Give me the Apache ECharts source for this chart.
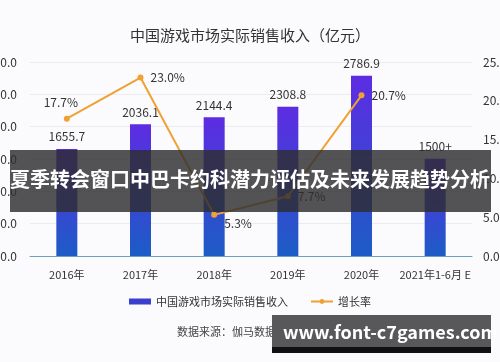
<!DOCTYPE html>
<html>
<head>
<meta charset="utf-8">
<script src="https://cdn.jsdelivr.net/npm/echarts@6/dist/echarts.min.js"></script>
<style>
html,body{margin:0;padding:0;background:#fbfafd;}
#c{width:500px;height:362px;}
</style>
</head>
<body>
<div id="c"></div>
<script>
const categories = ['2016年','2017年','2018年','2019年','2020年','2021年1-6月 E'];
const revenue = [1655.7, 2036.1, 2144.4, 2308.8, 2786.9, 1504.9];
const revenueLabels = ['1655.7','2036.1','2144.4','2308.8','2786.9','1500+'];
const growth = [17.7, 23.0, 5.3, 7.7, 20.7, null];
const growthLabelPos = ['top','right','right','right','right','right'];
const growthLabelShift = [[-6,0],[0,0],[0,9],[0,0],[0,0],[0,0]];
const leftTicks = {min:0, max:3000, interval:500};
const rightTicks = {min:0, max:25, interval:5};

const FONT = '"Noto Sans CJK SC", "Noto Sans", sans-serif';
const chart = echarts.init(document.getElementById('c'), null, {renderer:'canvas'});
chart.setOption({
  backgroundColor:'#fbfafd',
  animation:false,
  textStyle:{fontFamily:FONT},
  title:{
    text:'中国游戏市场实际销售收入（亿元）',
    left:'center', top:23,
    textStyle:{fontSize:15, fontWeight:'normal', color:'#333', fontFamily:FONT}
  },
  legend:{
    top:291, left:'center', itemGap:22,
    textStyle:{fontSize:11, color:'#333', fontFamily:FONT},
    data:[
      {name:'中国游戏市场实际销售收入', icon:'rect', itemStyle:{color:'#3b3fcf'}},
      {name:'增长率'}
    ],
    itemWidth:22, itemHeight:6
  },
  grid:{left:30, right:28, top:62, bottom:106, containLabel:false, outerBoundsMode:'none'},
  xAxis:{
    type:'category', data:categories,
    axisLine:{lineStyle:{color:'#6a9fc0', width:1}},
    axisTick:{show:false},
    axisLabel:{color:'#333', fontSize:11, margin:13, fontFamily:FONT, interval:0}
  },
  yAxis:[
    {type:'value', min:leftTicks.min, max:leftTicks.max, interval:leftTicks.interval,
     axisLine:{show:false}, axisTick:{show:false},
     splitLine:{lineStyle:{color:'#ececf0'}},
     axisLabel:{color:'#333', fontSize:12, margin:13, formatter:v=>v.toFixed(1)}},
    {type:'value', min:rightTicks.min, max:rightTicks.max, interval:rightTicks.interval,
     axisLine:{show:false}, axisTick:{show:false}, splitLine:{show:false},
     axisLabel:{color:'#333', fontSize:12, margin:11, formatter:v=>v.toFixed(1)+'%'}}
  ],
  series:[
    {name:'中国游戏市场实际销售收入', type:'bar', yAxisIndex:0, barWidth:21,
     data:revenue,
     itemStyle:{color:new echarts.graphic.LinearGradient(0,0,0,1,[
       {offset:0,color:'#5d2ce2'},{offset:1,color:'#1c5cc6'}])},
     label:{show:true, position:'top', distance:6, color:'#333', fontSize:12,
       formatter:p=>revenueLabels[p.dataIndex]}
    },
    {name:'增长率', type:'line', yAxisIndex:1,
     data:growth.map((v,i)=>({value:v, label:{position:growthLabelPos[i], offset:growthLabelShift[i]}})),
     lineStyle:{color:'#f0a132', width:2},
     itemStyle:{color:'#f0a132'},
     symbol:'circle', symbolSize:6,
     label:{show:true, color:'#333', fontSize:12, distance:7,
       formatter:p=>p.value.toFixed(1)+'%'}
    }
  ],
  graphic:[
    {type:'text', left:177, top:326, z:10,
     style:{text:'数据来源：伽马数据（CNG）', fill:'#444', font:'11px '+FONT}},
    {type:'rect', left:10, top:150, z:50, shape:{width:481, height:62},
     style:{fill:'rgba(45,45,48,0.82)'}},
    {type:'text', left:'center', top:169, z:51,
     style:{text:'夏季转会窗口中巴卡约科潜力评估及未来发展趋势分析', fill:'#fff',
       font:'bold 20px '+FONT}},
    {type:'rect', left:272, top:315, z:50, shape:{width:219, height:32},
     style:{fill:'#58585a'}},
    {type:'rect', left:272, top:347, z:50, shape:{width:219, height:6},
     style:{fill:'#111'}},
    {type:'text', left:283, top:323, z:51,
     style:{text:'www.font-c7games.com', fill:'#fff', font:'bold 18px '+FONT}}
  ]
});
</script>
</body>
</html>
